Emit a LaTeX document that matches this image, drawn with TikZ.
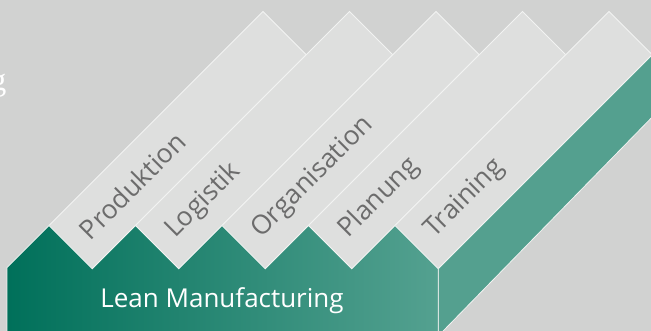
\documentclass[tikz,border=0pt]{standalone}
\usepackage{fontspec}
\setmainfont{Open Sans}
\newfontfamily\serifg{Liberation Serif}
\usetikzlibrary{calc}
\definecolor{bggray}{RGB}{209,210,209}
\definecolor{stripgray}{RGB}{222,223,222}
\definecolor{edgewhite}{RGB}{242,243,242}
\definecolor{labelgray}{RGB}{108,108,108}
\definecolor{leangreenA}{RGB}{0,112,90}
\definecolor{leangreenB}{RGB}{0,136,114}
\definecolor{leangreenC}{RGB}{84,161,144}
\definecolor{sidegreen}{RGB}{84,160,143}

\begin{document}
\begin{tikzpicture}[x=1pt,y=-1pt,
		strip/.style={fill=stripgray, draw=edgewhite, line width=0.8pt},
		front/.style={left color=leangreenA, middle color=leangreenB, right color=leangreenC, draw=edgewhite, line width=0.8pt},
		side/.style={fill=sidegreen, draw=edgewhite, line width=0.8pt},
		lab/.style={anchor=west, rotate=45, text=labelgray, inner sep=0pt, font=\fontsize{26.5}{26.5}\selectfont}
	]
	\fill[bggray] (0,0) rectangle (651,331);
	\useasboundingbox (0,0) rectangle (651,331);
	% corners of the zigzag
	\foreach \i in {0,...,4} {
		\coordinate (P\i) at ({49+86.5*\i},225.5);
		\coordinate (V\i) at ({92.25+86.5*\i},268.75);
	}
	% top faces
	\foreach \i in {0,...,4}
		\draw[strip] (P\i) -- (V\i) -- ++(214,-214) -- ($(P\i)+(214,-214)$) -- cycle;
	% side and front
	\draw[side] (V4) -- ++(214,-214) -- ++(0,62.25) -- (438.25,336) -- cycle;
	\draw[front] (7,336) -- (7,267.5) -- (P0) -- (V0) -- (P1) -- (V1) -- (P2) -- (V2)
		-- (P3) -- (V3) -- (P4) -- (V4) -- (438.25,336) -- cycle;
	\node[text=white, anchor=base, inner sep=0pt, font=\fontsize{26}{26}\selectfont] (lean) at (222,307.5) {Lean Manufacturing};
	\foreach \name [count=\i from 0] in {Produktion,Logistik,Organisation,Planung,Training}
		\node[lab] (lab\i) at ($(P\i)!0.5!(V\i)+(13,-13)$) {\name};
	\node[text=white, anchor=base east, inner sep=0pt, font=\serifg\fontsize{32}{32}\selectfont] (cutg) at (6.5,91) {g};
\end{tikzpicture}
\end{document}
